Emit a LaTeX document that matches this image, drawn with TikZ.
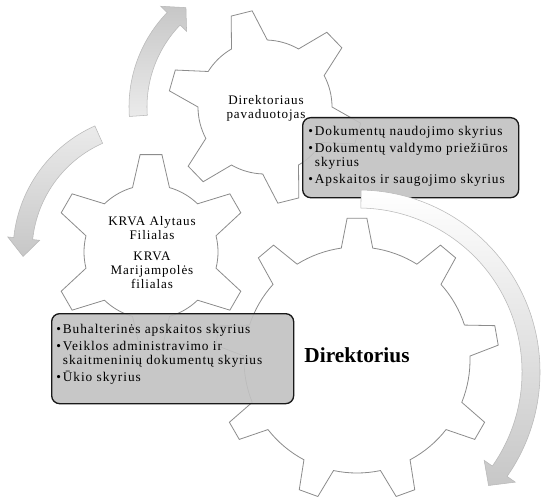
\documentclass[tikz,border=0pt]{standalone}
\usepackage{fontspec}
\setmainfont{Liberation Serif}
\newfontfamily\spaced[LetterSpace=7]{Liberation Serif}
\usetikzlibrary{positioning}
\tikzset{
  gear/.style     ={draw=black!45, line width=0.6pt, fill=white},
  boxframe/.style ={draw=black!90, line width=1pt, rounded corners=6pt, fill=black!24, fill opacity=0.9, inner sep=0pt, anchor=north west},
  items/.style    ={align=left, inner sep=0pt, anchor=north west, font=\spaced\fontsize{10}{10.4}\selectfont},
  gtext/.style    ={align=center, inner sep=0pt, font=\spaced\fontsize{9.8}{10.6}\selectfont},
  cyclearrow/.style={draw=black!28, line width=0.4pt},
}
\newcommand\itm{\textbullet\hspace{1.5pt}}
\newcommand\hang{\hphantom{\textbullet\hspace{1.5pt}}}

\begin{document}
\begin{tikzpicture}[x=0.75pt,y=0.75pt]
  \useasboundingbox[fill=white] (0,0) rectangle (541,497);

  \draw[gear, shift={(357,137)}] (82:113)
    \foreach \a in {90,130,...,410}{ -- ({\a-4}:142) -- ({\a+4}:142) -- ({\a+8}:113) arc[start angle=\a+8, end angle=\a+32, radius=113] } -- cycle;
  \draw[gear, shift={(151,245)}] (74:67)
    \foreach \a in {90,150,...,390}{ -- ({\a-6.4}:98) -- ({\a+6.4}:98) -- ({\a+16}:67) arc[start angle=\a+16, end angle=\a+44, radius=67] } -- cycle;
  \draw[gear, shift={(265,390)}] (88:67)
    \foreach \a in {104,164,...,404}{ -- ({\a-6.4}:97) -- ({\a+6.4}:97) -- ({\a+16}:67) arc[start angle=\a+16, end angle=\a+44, radius=67] } -- cycle;

  \draw[cyclearrow, top color=black!22, bottom color=black!8, shift={(265,390)}]
    (184:136) arc[start angle=184, end angle=136, radius=136] -- (136:145) -- (128.5:127) -- (136:109) -- (136:118) arc[start angle=136, end angle=184, radius=118] -- cycle;
  \draw[cyclearrow, top color=black!8, bottom color=black!22, shift={(151,245)}]
    (114:138) arc[start angle=114, end angle=174, radius=138] -- (174:144) -- (182:128) -- (174:112) -- (174:119) arc[start angle=174, end angle=114, radius=119] -- cycle;

  \node[gtext] (dirp) at (266,388.5) {Direktoriaus\\pavaduotojas};
  \node[gtext] (krva) at (152,244.5) {KRVA Alytaus\\Filialas\\[5pt]KRVA\\Marijampolės\\filialas};
  \node[font=\bfseries\fontsize{16}{18}\selectfont, inner sep=0pt] (dir) at (357,141.5) {Direktorius};

  \node[boxframe, minimum width=162pt, minimum height=60pt] (boxa) at (302,380) {};
  \node[items] (lista) at (308,370.7) {\itm Dokumentų naudojimo skyrius\\[2.3pt]\itm Dokumentų valdymo priežiūros\\\hang skyrius\\[2.3pt]\itm Apskaitos ir saugojimo skyrius};
  \node[boxframe, minimum width=181.5pt, minimum height=67.5pt] (boxb) at (51,184) {};
  \node[items] (listb) at (56,172.7) {\itm Buhalterinės apskaitos skyrius\\[2.3pt]\itm Veiklos administravimo ir\\\hang skaitmeninių dokumentų skyrius\\[2.3pt]\itm Ūkio skyrius};

  \draw[cyclearrow, top color=white, bottom color=black!22, shift={(358,125)}]
    (89:182) arc[start angle=89, end angle=-35, radius=182] -- (-35:192) -- (-41:173) -- (-35:154) -- (-35:164) arc[start angle=-35, end angle=89, radius=164] -- cycle;
\end{tikzpicture}
\end{document}
